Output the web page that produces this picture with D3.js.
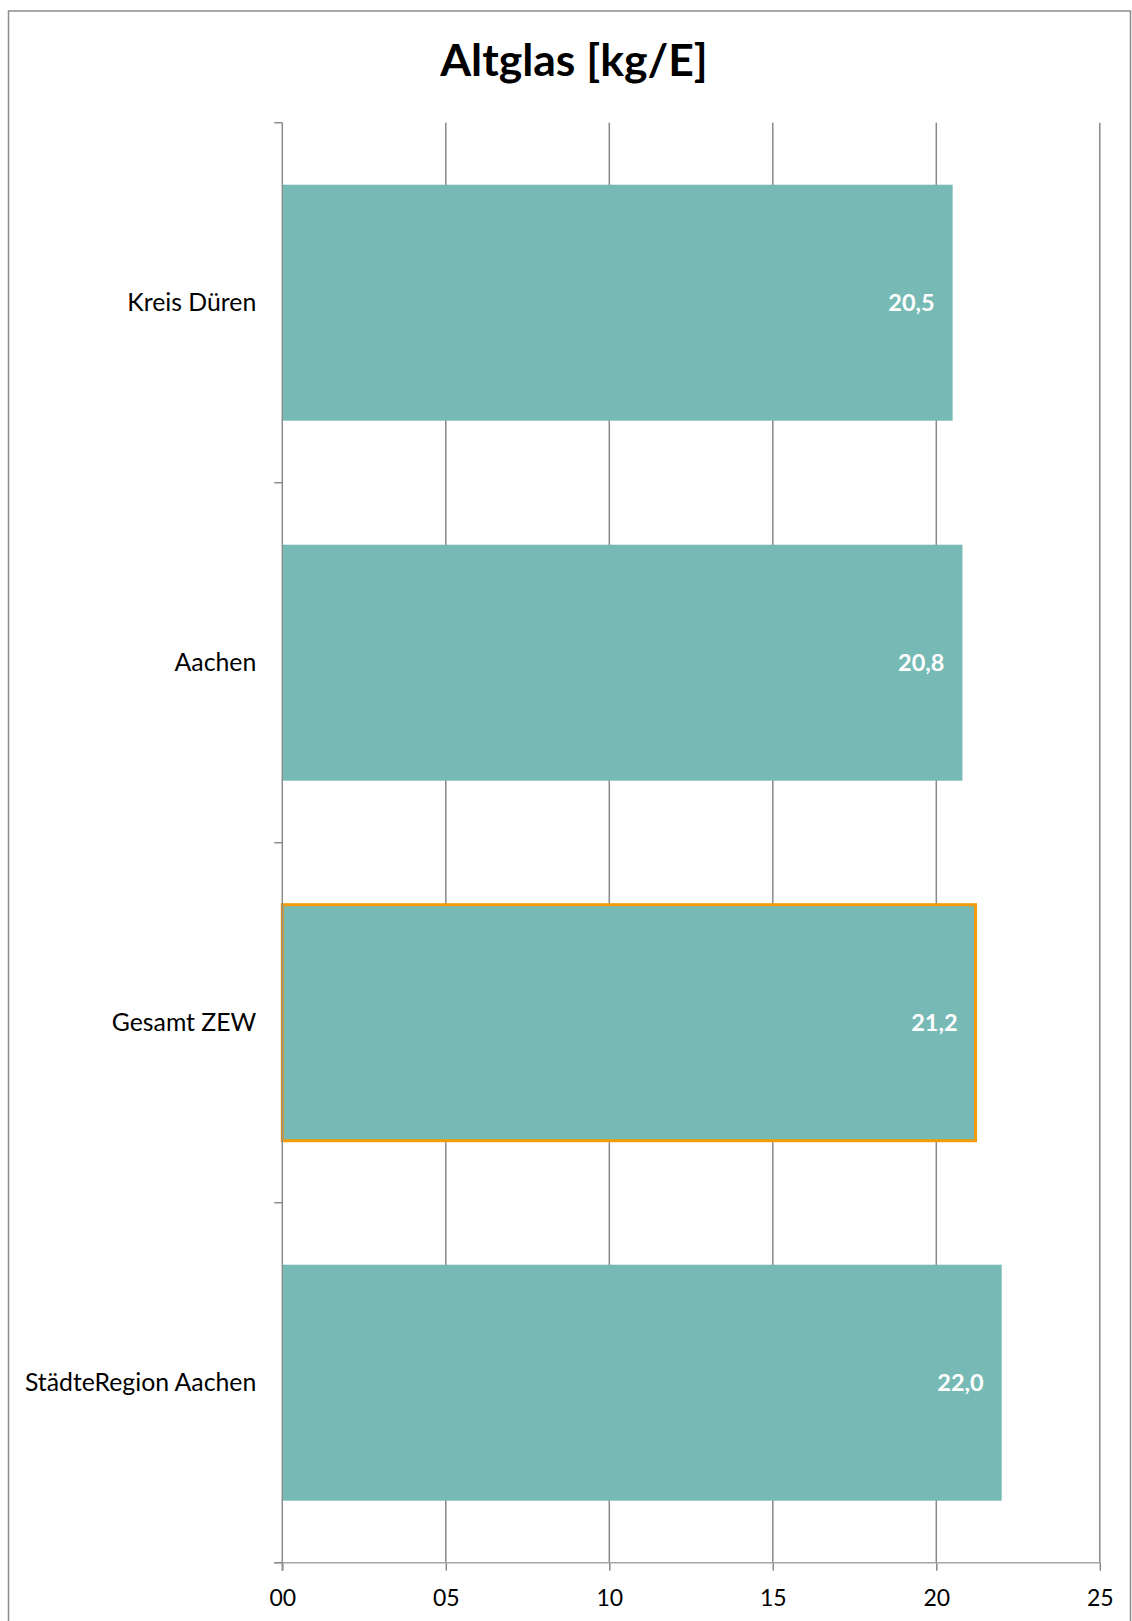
<!DOCTYPE html>
<html>
<head>
<meta charset="utf-8">
<script src="https://cdn.jsdelivr.net/npm/d3@7"></script>
<style>
  html, body { margin: 0; padding: 0; background: #ffffff; }
  svg { display: block; }
</style>
</head>
<body>
<script>
const categories = ["Kreis Düren", "Aachen", "Gesamt ZEW", "StädteRegion Aachen"];
const values = [20.5, 20.8, 21.2, 22.0];
const valueLabels = ["20,5", "20,8", "21,2", "22,0"];
const highlighted = ["Gesamt ZEW"];
const xTicks = [0, 5, 10, 15, 20, 25];
const titleText = "Altglas [kg/E]";

(function () {
const W = 1132, H = 1621;
const FONT = "Lato, 'Open Sans', sans-serif";
const pLeft = 282.3, pRight = 1099.8, pTop = 122.7, pBottom = 1562.7;

const svg = d3.select("body").append("svg").attr("width", W).attr("height", H);

// outer frame
svg.append("rect").attr("x", 8.5).attr("y", 11).attr("width", 1122).attr("height", 1640)
  .attr("fill", "#fff").attr("stroke", "#8c8c8c").attr("stroke-width", 1.5);

const x = d3.scaleLinear().domain([0, 25]).range([pLeft, pRight]);
const y = d3.scaleBand().domain(categories).range([pTop, pBottom]).paddingInner(0.3444).paddingOuter(0.1722);

// title
svg.append("text").attr("x", 574).attr("y", 76).attr("text-anchor", "middle")
  .attr("font-family", FONT).attr("font-weight", 700).attr("font-size", 44.5).attr("fill", "#000")
  .text(titleText);

// gridlines
svg.append("g").selectAll("line").data(xTicks.filter(d => d > 0)).join("line")
  .attr("x1", d => x(d)).attr("x2", d => x(d)).attr("y1", pTop).attr("y2", pBottom)
  .attr("stroke", "#888").attr("stroke-width", 1.5);

// bars
svg.append("g").selectAll("rect").data(categories).join("rect")
  .attr("x", x(0)).attr("y", d => y(d))
  .attr("width", (d, i) => x(values[i]) - x(0))
  .attr("height", y.bandwidth())
  .attr("fill", "#77BAB5")
  .attr("stroke", d => highlighted.includes(d) ? "#F39A0B" : "none")
  .attr("stroke-width", 3);

// x axis
const xAxis = d3.axisBottom(x).tickValues(xTicks).tickFormat(d3.format("02d")).tickSize(8).tickSizeOuter(0);
const gx = svg.append("g").attr("transform", `translate(0,${pBottom})`).call(xAxis);
gx.select(".domain").remove();
gx.selectAll(".tick line").attr("stroke", "#888").attr("stroke-width", 1.5);
gx.selectAll(".tick text").attr("font-family", FONT).attr("font-size", 23).attr("fill", "#000")
  .attr("y", 27).attr("dy", "0.71em");
gx.append("line").attr("x1", pLeft - 8).attr("x2", pRight).attr("y1", 0).attr("y2", 0)
  .attr("stroke", "#a6a6a6").attr("stroke-width", 1.5);

// y axis
const gy = svg.append("g");
gy.append("line").attr("x1", pLeft).attr("x2", pLeft).attr("y1", pTop).attr("y2", pBottom + 8)
  .attr("stroke", "#8c8c8c").attr("stroke-width", 1.5);
const bounds = categories.map(c => y(c) - y.step() * y.paddingInner() / 2).concat([pBottom]);
gy.selectAll("line.tk").data(bounds).join("line").attr("class", "tk")
  .attr("x1", pLeft - 8).attr("x2", pLeft).attr("y1", d => d).attr("y2", d => d)
  .attr("stroke", "#8c8c8c").attr("stroke-width", 1.5);

// category labels
svg.append("g").selectAll("text").data(categories).join("text")
  .attr("x", pLeft - 26).attr("y", d => y(d) + y.bandwidth() / 2).attr("dy", "0.35em")
  .attr("text-anchor", "end").attr("font-family", FONT).attr("font-size", 24.8).attr("fill", "#000")
  .text(d => d);

// value labels
svg.append("g").selectAll("text").data(categories).join("text")
  .attr("x", (d, i) => x(values[i]) - 18).attr("y", d => y(d) + y.bandwidth() / 2).attr("dy", "0.35em")
  .attr("text-anchor", "end").attr("font-family", FONT).attr("font-weight", 700).attr("font-size", 23.5)
  .attr("fill", "#fff")
  .text((d, i) => valueLabels[i]);
})();
</script>
</body>
</html>
